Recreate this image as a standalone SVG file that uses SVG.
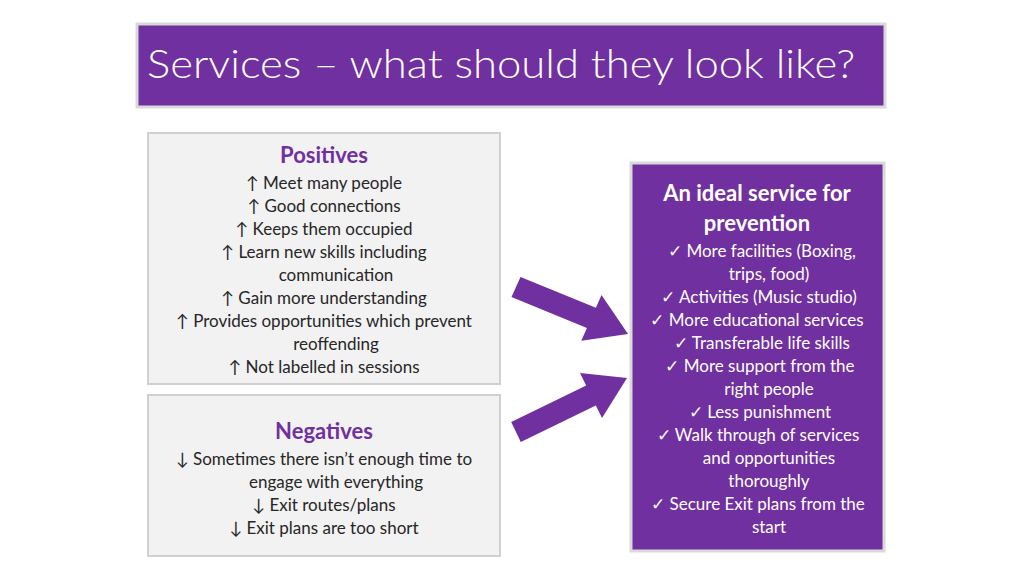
<svg xmlns="http://www.w3.org/2000/svg" width="1024" height="576" viewBox="0 0 1024 576">
<style>
.t{font-family:Lato,"Open Sans",sans-serif;font-size:17px;fill:#262626;text-anchor:middle}
.w{font-family:Lato,"Open Sans",sans-serif;font-size:17px;fill:#fff;text-anchor:middle}
.h{font-family:Lato,"Open Sans",sans-serif;font-size:22px;font-weight:bold;fill:#7030A0;text-anchor:middle}
.hw{font-family:Lato,"Open Sans",sans-serif;font-size:22px;font-weight:bold;fill:#fff;text-anchor:middle}
.gray{fill:#F2F2F2;stroke:#D0D0D0;stroke-width:2}
.pur{fill:#7030A0;stroke:#D9D9D9;stroke-width:3}
</style>
<rect width="1024" height="576" fill="#fff"/>
<g id="title"><rect x="137" y="24" width="748" height="83" class="pur"/>
<text x="147" y="78" font-family="Lato,'Open Sans',sans-serif" font-size="40" font-weight="300" fill="#fff" textLength="708" lengthAdjust="spacingAndGlyphs">Services – what should they look like?</text></g>
<g id="positives"><rect x="148" y="133" width="352" height="251" class="gray"/>
<text x="324" y="163" class="h">Positives</text>
<text x="324" y="189" class="t">↑ Meet many people</text>
<text x="324" y="212" class="t">↑ Good connections</text>
<text x="324" y="235" class="t">↑ Keeps them occupied</text>
<text x="324" y="258" class="t">↑ Learn new skills including</text>
<text x="336" y="281" class="t">communication</text>
<text x="324" y="304" class="t">↑ Gain more understanding</text>
<text x="324" y="327" class="t">↑ Provides opportunities which prevent</text>
<text x="336" y="350" class="t">reoffending</text>
<text x="324" y="373" class="t">↑ Not labelled in sessions</text></g>
<g id="negatives"><rect x="148" y="395" width="352" height="161" class="gray"/>
<text x="324" y="439" class="h">Negatives</text>
<text x="324" y="465" class="t">↓ Sometimes there isn’t enough time to</text>
<text x="336" y="488" class="t">engage with everything</text>
<text x="324" y="511" class="t">↓ Exit routes/plans</text>
<text x="324" y="534" class="t">↓ Exit plans are too short</text></g>
<g id="ideal"><rect x="631" y="163" width="253" height="388" class="pur"/>
<text x="757" y="201" class="hw">An ideal service for</text>
<text x="757" y="231" class="hw">prevention</text>
<text x="762" y="257" class="w">✓ More facilities (Boxing,</text>
<text x="769" y="280" class="w">trips, food)</text>
<text x="759" y="303" class="w">✓ Activities (Music studio)</text>
<text x="757" y="326" class="w">✓ More educational services</text>
<text x="762" y="349" class="w">✓ Transferable life skills</text>
<text x="760" y="372" class="w">✓ More support from the</text>
<text x="769" y="395" class="w">right people</text>
<text x="760" y="418" class="w">✓ Less punishment</text>
<text x="758" y="441" class="w">✓ Walk through of services</text>
<text x="769" y="464" class="w">and opportunities</text>
<text x="769" y="487" class="w">thoroughly</text>
<text x="758" y="510" class="w">✓ Secure Exit plans from the</text>
<text x="769" y="533" class="w">start</text></g>
<g id="connectors" fill="#7030A0">
<polygon points="520.5,276.9 595.9,307.7 601.5,294.9 628,334 581.3,340.7 586.9,327.9 511.5,297.1"/>
<polygon points="511.2,422.1 586.2,385.6 580,373 627,378 602,418 595.8,405.4 520.8,441.9"/>
</g>
</svg>
